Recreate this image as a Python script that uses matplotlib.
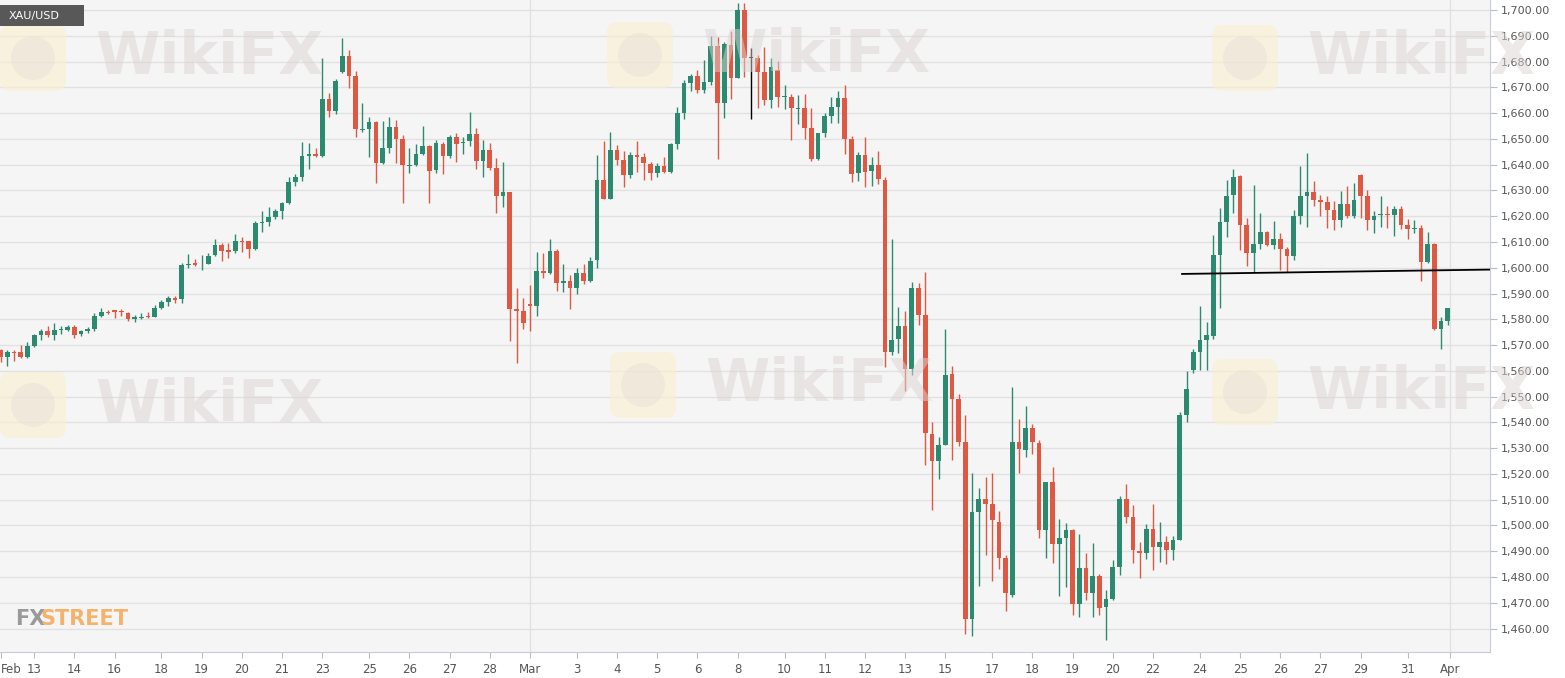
import numpy as np
import matplotlib
matplotlib.use("Agg")
import matplotlib.pyplot as plt
from matplotlib.patches import FancyBboxPatch, Circle
from matplotlib.transforms import IdentityTransform

# 4h XAU/USD candles (open, high, low, close)
opens = [1567.9, 1565.3, 1567.3, 1567.2, 1565.5, 1569.7, 1574.1, 1575.4, 1574.0, 1575.7,
         1575.9, 1577.2, 1574.2, 1575.3, 1576.3, 1581.3, 1582.9, 1583.6, 1583.3, 1582.5,
         1580.3, 1580.5, 1581.1, 1580.8, 1584.2, 1586.9, 1588.4, 1588.0, 1600.9, 1601.8,
         1600.9, 1601.5, 1604.9, 1609.0, 1606.7, 1606.6, 1610.4, 1610.2, 1607.2, 1617.5,
         1617.9, 1619.8, 1622.1, 1625.0, 1633.4, 1635.4, 1643.4, 1644.0, 1643.4, 1665.5,
         1660.8, 1676.1, 1682.2, 1674.4, 1653.4, 1653.9, 1656.6, 1640.8, 1646.4, 1654.8,
         1650.0, 1639.6, 1639.9, 1644.2, 1647.3, 1637.9, 1648.0, 1643.5, 1650.6, 1648.3,
         1649.2, 1651.8, 1641.6, 1645.7, 1638.9, 1627.9, 1629.3, 1583.9, 1583.3, 1586.0,
         1585.0, 1598.7, 1597.9, 1606.4, 1594.0, 1595.0, 1592.1, 1597.9, 1595.0, 1603.1,
         1634.1, 1626.7, 1645.7, 1641.8, 1636.0, 1643.8, 1642.9, 1640.2, 1636.7, 1639.5,
         1637.3, 1647.9, 1659.9, 1671.8, 1674.4, 1669.0, 1672.2, 1686.0, 1663.8, 1686.4,
         1673.7, 1700.0, 1681.3, 1681.3, 1675.8, 1665.1, 1676.7, 1666.2, 1666.4, 1661.6,
         1662.1, 1654.4, 1642.1, 1652.4, 1658.9, 1662.3, 1665.8, 1649.8, 1636.7, 1643.6,
         1637.4, 1640.0, 1634.2, 1567.2, 1572.3, 1577.4, 1560.9, 1592.3, 1581.7, 1535.6,
         1524.9, 1531.4, 1558.9, 1549.0, 1532.5, 1463.7, 1505.4, 1510.2, 1508.4, 1501.5,
         1487.2, 1473.1, 1532.3, 1529.1, 1537.8, 1532.1, 1498.2, 1516.9, 1492.8, 1495.2,
         1498.2, 1469.6, 1483.6, 1473.7, 1480.2, 1468.3, 1471.4, 1483.8, 1510.4, 1503.4,
         1490.2, 1489.4, 1498.8, 1491.8, 1493.4, 1490.5, 1494.3, 1542.7, 1560.5, 1567.4,
         1571.8, 1573.7, 1604.9, 1617.6, 1628.4, 1635.5, 1616.7, 1605.8, 1609.4, 1613.8,
         1609.0, 1611.3, 1607.1, 1604.5, 1620.2, 1628.0, 1629.4, 1626.4, 1625.4, 1622.3,
         1618.7, 1624.9, 1620.0, 1636.1, 1628.0, 1618.4, 1620.4, 1620.9, 1620.6, 1622.9,
         1616.7, 1615.1, 1615.5, 1602.1, 1609.4, 1576.3, 1579.3]
highs = [1568.5, 1568.0, 1568.0, 1570.1, 1571.0, 1574.4, 1576.2, 1577.5, 1578.5, 1577.5,
         1577.9, 1577.9, 1575.9, 1577.0, 1582.6, 1584.2, 1583.6, 1583.7, 1584.1, 1583.0,
         1581.7, 1582.6, 1583.0, 1585.5, 1587.6, 1589.1, 1589.1, 1601.8, 1605.4, 1603.3,
         1605.0, 1605.7, 1611.1, 1609.5, 1609.5, 1613.0, 1611.8, 1610.5, 1618.2, 1622.2,
         1623.7, 1622.7, 1625.7, 1635.4, 1636.4, 1648.9, 1648.3, 1646.6, 1681.3, 1667.7,
         1673.2, 1689.0, 1684.5, 1676.3, 1663.8, 1658.6, 1657.1, 1657.1, 1658.4, 1657.3,
         1651.5, 1646.4, 1648.0, 1655.0, 1647.7, 1649.6, 1648.9, 1651.5, 1652.4, 1650.9,
         1660.3, 1654.4, 1649.6, 1648.3, 1642.5, 1641.2, 1629.5, 1592.0, 1588.2, 1593.4,
         1606.3, 1605.6, 1611.1, 1607.2, 1601.4, 1597.2, 1600.1, 1601.5, 1604.3, 1643.8,
         1649.2, 1652.8, 1647.7, 1645.4, 1645.1, 1649.3, 1644.4, 1641.2, 1640.8, 1642.9,
         1648.6, 1662.3, 1673.0, 1675.2, 1676.7, 1680.6, 1689.9, 1689.4, 1687.7, 1692.0,
         1702.8, 1702.8, 1685.1, 1682.6, 1685.5, 1681.3, 1680.3, 1670.9, 1667.4, 1667.0,
         1667.4, 1661.9, 1652.4, 1659.9, 1666.4, 1668.7, 1671.0, 1651.0, 1644.8, 1650.7,
         1642.9, 1645.5, 1635.3, 1611.3, 1584.7, 1583.3, 1594.6, 1594.1, 1598.2, 1540.3,
         1534.5, 1576.2, 1561.7, 1551.0, 1542.8, 1520.5, 1514.6, 1519.0, 1520.5, 1505.6,
         1488.7, 1553.9, 1541.4, 1546.5, 1539.4, 1533.0, 1516.9, 1522.7, 1502.7, 1501.0,
         1498.8, 1496.5, 1489.4, 1493.3, 1481.2, 1475.0, 1486.6, 1511.3, 1516.2, 1507.9,
         1493.7, 1500.4, 1508.5, 1501.4, 1496.0, 1496.0, 1543.9, 1560.0, 1568.3, 1585.1,
         1578.9, 1612.6, 1623.2, 1633.9, 1638.3, 1635.9, 1619.3, 1632.2, 1621.3, 1614.2,
         1618.0, 1613.3, 1608.0, 1622.3, 1639.4, 1644.5, 1633.5, 1628.4, 1628.0, 1625.8,
         1629.7, 1631.6, 1632.9, 1636.3, 1630.3, 1621.9, 1627.7, 1624.1, 1623.8, 1623.8,
         1619.1, 1618.7, 1616.7, 1613.8, 1609.6, 1581.0, 1584.4]
lows = [1563.5, 1561.7, 1564.0, 1565.0, 1565.0, 1569.2, 1572.0, 1573.3, 1572.0, 1574.4,
        1575.3, 1572.7, 1573.4, 1574.6, 1575.3, 1580.8, 1581.9, 1580.5, 1581.4, 1579.4,
        1579.1, 1580.2, 1580.6, 1580.8, 1583.9, 1585.2, 1586.5, 1586.3, 1599.8, 1600.5,
        1599.0, 1601.4, 1604.6, 1602.8, 1603.6, 1605.9, 1606.0, 1603.7, 1606.9, 1614.0,
        1616.2, 1618.8, 1618.8, 1624.7, 1631.8, 1633.7, 1638.2, 1643.0, 1643.1, 1658.5,
        1659.6, 1675.5, 1669.6, 1650.6, 1652.8, 1642.9, 1632.8, 1640.2, 1644.4, 1640.8,
        1625.0, 1636.7, 1639.5, 1643.8, 1625.0, 1636.7, 1636.3, 1642.7, 1641.2, 1644.0,
        1647.3, 1638.2, 1635.1, 1638.0, 1621.2, 1623.7, 1571.7, 1563.0, 1576.2, 1575.3,
        1581.4, 1596.0, 1597.6, 1590.8, 1590.6, 1583.9, 1589.9, 1593.8, 1594.3, 1599.8,
        1626.7, 1626.7, 1639.9, 1631.5, 1634.7, 1637.3, 1634.1, 1634.1, 1635.4, 1636.9,
        1636.9, 1646.0, 1657.6, 1668.7, 1667.9, 1667.7, 1670.9, 1642.1, 1658.0, 1665.5,
        1673.7, 1674.1, 1657.6, 1661.9, 1663.2, 1661.9, 1662.5, 1661.5, 1649.6, 1655.8,
        1649.9, 1641.6, 1641.8, 1650.6, 1656.3, 1656.3, 1644.0, 1633.3, 1633.6, 1631.5,
        1631.8, 1632.6, 1561.3, 1566.1, 1566.8, 1552.2, 1558.5, 1577.9, 1523.4, 1506.0,
        1518.0, 1531.1, 1525.3, 1530.7, 1457.9, 1457.1, 1476.6, 1488.6, 1478.3, 1483.3,
        1466.7, 1472.4, 1520.5, 1526.5, 1527.8, 1495.0, 1487.5, 1485.6, 1472.8, 1476.0,
        1465.3, 1464.4, 1471.1, 1464.4, 1465.3, 1455.7, 1470.9, 1480.8, 1501.0, 1485.6,
        1479.5, 1486.9, 1482.7, 1486.0, 1485.1, 1486.6, 1494.3, 1540.1, 1559.3, 1560.5,
        1560.5, 1572.4, 1584.4, 1612.0, 1621.3, 1606.7, 1600.6, 1598.3, 1607.1, 1608.3,
        1607.1, 1599.3, 1598.3, 1602.9, 1617.0, 1615.8, 1624.1, 1620.2, 1615.5, 1614.5,
        1615.8, 1619.3, 1619.3, 1619.3, 1614.5, 1613.3, 1615.8, 1615.5, 1612.2, 1615.1,
        1611.2, 1613.5, 1594.8, 1601.9, 1575.8, 1568.6, 1577.6]
closes = [1565.4, 1567.3, 1566.9, 1565.4, 1569.7, 1574.1, 1575.3, 1574.0, 1575.9, 1576.2,
          1577.2, 1574.0, 1575.3, 1576.3, 1581.3, 1582.8, 1582.5, 1583.0, 1582.8, 1580.1,
          1580.7, 1581.0, 1580.7, 1584.2, 1586.9, 1588.4, 1587.3, 1600.9, 1601.4, 1601.0,
          1601.2, 1604.7, 1609.0, 1606.6, 1606.3, 1610.4, 1609.9, 1607.2, 1617.5, 1617.9,
          1619.8, 1622.1, 1625.0, 1633.2, 1635.1, 1643.4, 1644.0, 1643.4, 1665.5, 1660.9,
          1672.3, 1682.2, 1674.5, 1653.9, 1653.9, 1656.6, 1640.8, 1646.4, 1654.5, 1650.0,
          1639.8, 1640.0, 1644.2, 1647.3, 1637.7, 1648.3, 1643.5, 1650.6, 1648.2, 1648.9,
          1651.8, 1641.6, 1645.7, 1638.9, 1627.9, 1629.3, 1583.9, 1583.4, 1578.5, 1585.2,
          1598.9, 1597.9, 1606.4, 1594.0, 1595.0, 1592.1, 1597.9, 1595.0, 1602.8, 1634.1,
          1626.7, 1645.7, 1641.8, 1636.0, 1643.8, 1643.1, 1640.6, 1636.7, 1639.5, 1637.3,
          1647.9, 1659.9, 1671.6, 1674.4, 1669.0, 1672.2, 1686.0, 1663.8, 1686.8, 1673.7,
          1700.0, 1681.5, 1681.3, 1675.8, 1665.1, 1677.8, 1666.4, 1666.7, 1662.1, 1662.1,
          1654.4, 1642.1, 1652.2, 1658.9, 1662.3, 1665.8, 1650.0, 1636.3, 1643.9, 1637.3,
          1640.0, 1634.5, 1567.2, 1572.1, 1577.4, 1560.9, 1592.3, 1581.7, 1535.9, 1524.9,
          1531.4, 1558.4, 1549.0, 1532.5, 1463.7, 1505.3, 1510.2, 1508.4, 1502.3, 1487.3,
          1473.8, 1532.3, 1529.5, 1537.8, 1532.3, 1498.2, 1516.9, 1492.8, 1495.2, 1498.2,
          1469.6, 1483.6, 1473.7, 1480.2, 1467.9, 1471.4, 1483.8, 1510.4, 1503.4, 1490.5,
          1489.4, 1498.8, 1491.8, 1493.4, 1490.5, 1494.3, 1542.7, 1553.0, 1567.4, 1571.8,
          1574.1, 1604.9, 1617.6, 1627.7, 1635.1, 1616.7, 1605.8, 1609.4, 1613.8, 1609.0,
          1611.3, 1607.1, 1604.5, 1620.2, 1628.0, 1629.3, 1626.4, 1625.4, 1622.3, 1618.7,
          1624.9, 1620.0, 1626.4, 1628.0, 1618.4, 1620.2, 1620.9, 1620.4, 1622.9, 1616.7,
          1615.1, 1615.5, 1602.1, 1609.4, 1576.3, 1579.3, 1584.4]

# x axis: candle index of each date tick
tick_pos = [0, 5, 11, 17, 24, 30, 36, 42, 48, 55, 61, 67, 73, 79, 86, 92, 98, 104, 110,
            117, 123, 129, 135, 141, 148, 154, 160, 166, 172, 179, 185, 191, 197, 203, 210, 216.3]
tick_lab = ["Feb", "13", "14", "16", "18", "19", "20", "21", "23", "25", "26", "27", "28",
            "Mar", "3", "4", "5", "6", "8", "10", "11", "12", "13", "15", "17", "18", "19",
            "20", "22", "24", "25", "26", "27", "29", "31", "Apr"]

# hand-drawn support line (start candle, price) -> (end, price)
line_x = [176.2, 222.5]
line_y = [1597.6, 1599.3]

W, H = 1565, 678
GREEN, RED = "#2b8a6f", "#de5944"

fig = plt.figure(figsize=(W / 100, H / 100), dpi=100)
fig.patch.set_facecolor("white")
ax = fig.add_axes([0, 26 / H, 1490 / W, 652 / H])
ax.set_facecolor("#f5f5f5")

def px(x, y):
    return x / W, 1 - y / H

# watermarks (logo square + WikiFX text), pixel positions from top-left
ident = IdentityTransform()
for (lx, ly) in [(0, 58), (607, 55), (1212, 58), (0, 405), (610, 385), (1212, 392)]:
    fig.patches.append(FancyBboxPatch((lx, H - ly - 33), 66, 66, boxstyle="round,pad=0,rounding_size=10",
                                      transform=ident, facecolor="#fbefcf", edgecolor="none",
                                      alpha=0.6, zorder=0.3))
    fig.patches.append(Circle((lx + 33, H - ly), 22, transform=ident, facecolor="#e9e0d9",
                              edgecolor="none", alpha=0.5, zorder=0.35))
    fig.text(*px(lx + 95, ly), "WikiFX", fontsize=42, fontweight="bold", color="#dcd5d2",
             alpha=0.5, va="center", ha="left", zorder=0.4)

o = np.array(opens); h = np.array(highs); l = np.array(lows); c = np.array(closes)
idx = np.arange(len(o))
cols = np.where(c > o, GREEN, np.where(c < o, RED, "black"))

ax.vlines(idx, l, h, colors=cols, lw=1.0, zorder=3)
body = np.maximum(np.abs(c - o), 0.35)
ax.bar(idx, body, bottom=np.minimum(o, c), width=0.7, color=cols, zorder=4, linewidth=0)

ax.plot(line_x, line_y, color="black", lw=1.3, zorder=5, solid_capstyle="butt")

ax.set_xlim(-0.1, 222.3)
ax.set_ylim(1450.9, 1703.9)

yt = np.arange(1460, 1701, 10)
ax.set_yticks(yt)
ax.set_yticklabels([f"{v:,.2f}" for v in yt])
ax.yaxis.tick_right()
ax.grid(axis="y", color="#e1e1e1", lw=1, zorder=1)
ax.set_axisbelow(True)
for m in (79, 216.3):
    ax.axvline(m, color="#e1e1e1", lw=1, zorder=1)

ax.set_xticks(tick_pos)
ax.set_xticklabels(tick_lab)
ax.get_xticklabels()[0].set_ha("left")
ax.tick_params(axis="y", length=5, color="#b8bcc6", labelsize=8, labelcolor="#555555", pad=3)
ax.tick_params(axis="x", length=4, color="#b8bcc6", labelsize=8.5, labelcolor="#555555", pad=4)

for s in ("left", "top"):
    ax.spines[s].set_visible(False)
for s in ("right", "bottom"):
    ax.spines[s].set_color("#c8ccd6")

# symbol label
fig.patches.append(FancyBboxPatch((0, H - 26), 84, 21, boxstyle="square,pad=0", transform=ident,
                                  facecolor="#585858", edgecolor="none", zorder=9))
fig.text(*px(9, 15.5), "XAU/USD", fontsize=8, color="white", va="center", ha="left", zorder=10)

# FXStreet logo
fig.text(*px(15, 619), "FX", fontsize=15, fontweight="bold", color="#9a9a9a",
         va="center", ha="left", zorder=10)
fig.text(*px(40, 619), "STREET", fontsize=15, fontweight="bold", color="#f4b26a",
         va="center", ha="left", zorder=10)

fig.savefig("out.png", dpi=100)
